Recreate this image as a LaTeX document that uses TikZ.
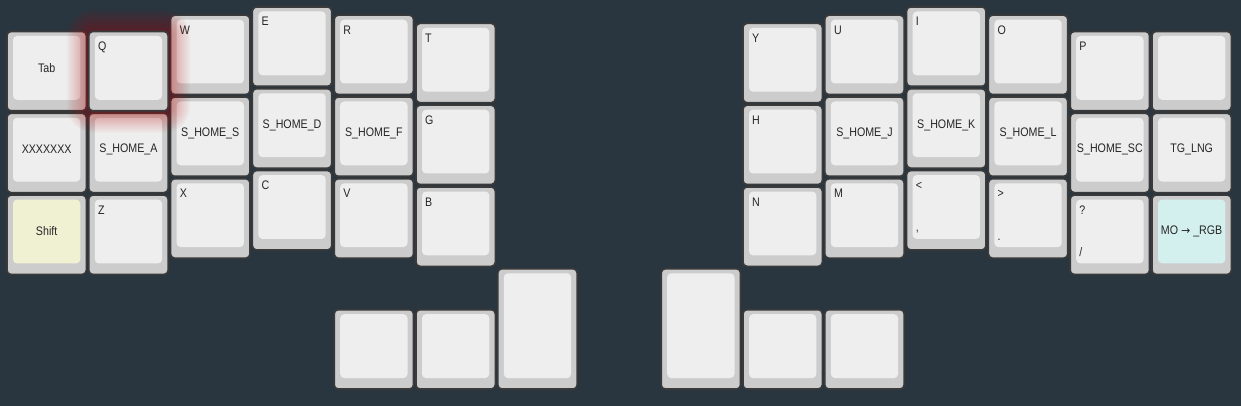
\documentclass[tikz,border=0pt]{standalone}
\usepackage{fontspec}
\setmainfont[FakeStretch=0.86]{Liberation Sans}
\newfontfamily\symf{DejaVu Sans}
\usetikzlibrary{calc}
\definecolor{bgc}{HTML}{29353F}
\definecolor{capout}{HTML}{CCCCCC}
\definecolor{capin}{HTML}{EEEEEE}
\definecolor{capedge}{HTML}{3A3A3A}
\definecolor{shiftc}{HTML}{F0F0D3}
\definecolor{rgbc}{HTML}{D3F0EF}
\definecolor{txt}{HTML}{262626}
\definecolor{glowc}{HTML}{C81818}
\tikzset{
  keyo/.style={draw=capedge, line width=1.6pt, fill=capout, rounded corners=4pt, minimum width=79.3pt, inner sep=0pt, outer sep=0pt},
  keyi/.style={fill=#1, rounded corners=4pt, minimum width=67.3pt, inner sep=0pt, outer sep=0pt},
  keyi/.default=capin,
  lbl/.style={text=txt, font=\fontsize{12.4}{14}\selectfont, inner sep=0pt}
}
\newcommand\keycap[5]{%
  \node[keyo, minimum height=#4pt, anchor=north west] (#1) at (#2,#3) {};
  \node[keyi=#5, minimum height=#4pt-15.5pt, anchor=north west] (#1i) at ($(#1.north west)+(6,4.5)$) {};
}
\newcommand\ktl[2]{\node[lbl, anchor=base west] (#1t) at ($(#1i.north west)+(3,14.5)$) {#2};}
\newcommand\kcl[2]{\node[lbl] (#1c) at (#1i.center) {#2};}
\newcommand\kbl[2]{\node[lbl, anchor=base west] (#1b) at ($(#1i.south west)+(3,-7)$) {#2};}
\begin{document}
\begin{tikzpicture}[x=1pt, y=-1pt]
\useasboundingbox (0,0) rectangle (1241,406);
\fill[bgc] (0,0) rectangle (1241,406);
% left half
\keycap{tab}{7}{31.5}{79.3}{capin}\kcl{tab}{Tab}
\keycap{xx}{7}{113.3}{79.3}{capin}\kcl{xx}{XXXXXXX}
\keycap{shift}{7}{195.1}{79.3}{shiftc}\kcl{shift}{Shift}
\keycap{sa}{88.8}{113.3}{79.3}{capin}\kcl{sa}{S\_HOME\_A}
\keycap{z}{88.8}{195.1}{79.3}{capin}\ktl{z}{Z}
\keycap{w}{170.6}{15.2}{79.3}{capin}\ktl{w}{W}
\keycap{ss}{170.6}{97.0}{79.3}{capin}\kcl{ss}{S\_HOME\_S}
\keycap{x}{170.6}{178.8}{79.3}{capin}\ktl{x}{X}
\keycap{e}{252.4}{7.0}{79.3}{capin}\ktl{e}{E}
\keycap{sd}{252.4}{88.8}{79.3}{capin}\kcl{sd}{S\_HOME\_D}
\keycap{c}{252.4}{170.6}{79.3}{capin}\ktl{c}{C}
\keycap{r}{334.2}{15.2}{79.3}{capin}\ktl{r}{R}
\keycap{sf}{334.2}{97.0}{79.3}{capin}\kcl{sf}{S\_HOME\_F}
\keycap{v}{334.2}{178.8}{79.3}{capin}\ktl{v}{V}
\keycap{t}{416.0}{23.4}{79.3}{capin}\ktl{t}{T}
\keycap{g}{416.0}{105.2}{79.3}{capin}\ktl{g}{G}
\keycap{b}{416.0}{187.0}{79.3}{capin}\ktl{b}{B}
\keycap{lt1}{334.2}{309.7}{79.3}{capin}
\keycap{lt2}{416.0}{309.7}{79.3}{capin}
\keycap{lt3}{497.8}{268.8}{120.2}{capin}
% right half
\keycap{y}{743}{23.4}{79.3}{capin}\ktl{y}{Y}
\keycap{h}{743}{105.2}{79.3}{capin}\ktl{h}{H}
\keycap{n}{743}{187.0}{79.3}{capin}\ktl{n}{N}
\keycap{u}{824.8}{15.2}{79.3}{capin}\ktl{u}{U}
\keycap{sj}{824.8}{97.0}{79.3}{capin}\kcl{sj}{S\_HOME\_J}
\keycap{m}{824.8}{178.8}{79.3}{capin}\ktl{m}{M}
\keycap{i}{906.6}{7.0}{79.3}{capin}\ktl{i}{I}
\keycap{sk}{906.6}{88.8}{79.3}{capin}\kcl{sk}{S\_HOME\_K}
\keycap{comma}{906.6}{170.6}{79.3}{capin}\ktl{comma}{<}\kbl{comma}{,}
\keycap{o}{988.4}{15.2}{79.3}{capin}\ktl{o}{O}
\keycap{sl}{988.4}{97.0}{79.3}{capin}\kcl{sl}{S\_HOME\_L}
\keycap{dot}{988.4}{178.8}{79.3}{capin}\ktl{dot}{>}\kbl{dot}{.}
\keycap{p}{1070.2}{31.5}{79.3}{capin}\ktl{p}{P}
\keycap{ssc}{1070.2}{113.3}{79.3}{capin}\kcl{ssc}{S\_HOME\_SC}
\keycap{slash}{1070.2}{195.1}{79.3}{capin}\ktl{slash}{?}\kbl{slash}{/}
\keycap{rx}{1152}{31.5}{79.3}{capin}
\keycap{tg}{1152}{113.3}{79.3}{capin}\kcl{tg}{TG\_LNG}
\keycap{mo}{1152}{195.1}{79.3}{rgbc}\kcl{mo}{MO {\symf\fontsize{11}{13}\selectfont →} \_RGB}
\keycap{rt1}{661.2}{268.8}{120.2}{capin}
\keycap{rt2}{743}{309.7}{79.3}{capin}
\keycap{rt3}{824.8}{309.7}{79.3}{capin}
% red glow round the Q key
\foreach \i in {1,...,22}{
  \fill[glowc, opacity=0.02, rounded corners=4pt+\i pt] (88.8-\i,31.5-\i) rectangle (168.1+\i,110.8+\i);
}
\keycap{q}{88.8}{31.5}{79.3}{capin}\ktl{q}{Q}
\end{tikzpicture}
\end{document}
